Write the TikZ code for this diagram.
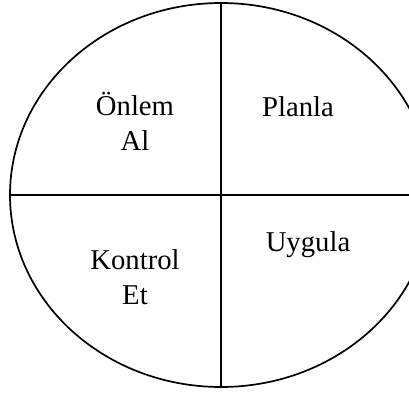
\documentclass[tikz,border=0pt]{standalone}
\usepackage{fontspec}
\setmainfont{Liberation Serif}
\usetikzlibrary{shapes.geometric}

\begin{document}
\begin{tikzpicture}[
    x=1pt, y=1pt,
    line width=1.7pt,
    every node/.style={font=\fontsize{28.7}{35}\selectfont, align=center}
]
\clip (0,0) rectangle (409,394);
\node[ellipse, draw, inner sep=0pt, minimum width=422, minimum height=384] (cycle) at (221,199) {};
\draw (cycle.north) -- (cycle.south);
\draw (cycle.west) -- (cycle.east);
\node (onlem) at (135,273) {Önlem\\Al};
\node[anchor=base] (planla) at (298,277) {Planla};
\node[anchor=base] (uygula) at (308,143) {Uygula};
\node (kontrol) at (135,117) {Kontrol\\Et};
\end{tikzpicture}
\end{document}
